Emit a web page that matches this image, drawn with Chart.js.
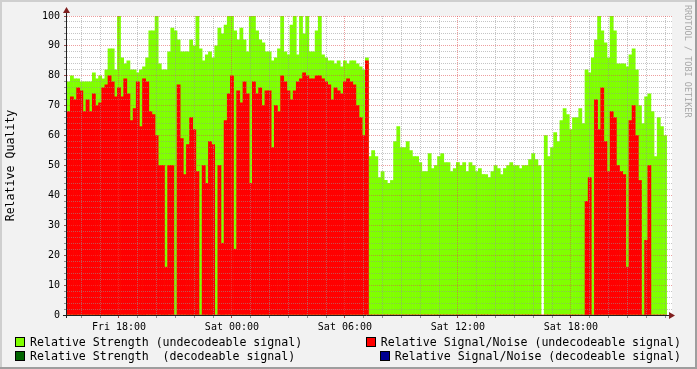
<!DOCTYPE html>
<html>
<head>
<meta charset="utf-8">
<script src="https://cdn.jsdelivr.net/npm/chart.js@4/dist/chart.umd.min.js"></script>
<style>
html,body{margin:0;padding:0;background:#f2f2f2;}
#wrap{position:relative;width:697px;height:369px;overflow:hidden;}
canvas{position:absolute;left:0;top:0;}
.leg{position:absolute;font-family:"DejaVu Sans Mono",monospace;font-size:11.6px;line-height:14px;color:#000;white-space:pre;display:flex;align-items:center;}
.sw{width:10px;height:10px;box-sizing:border-box;border:1px solid #000;margin-right:5px;flex:none;}
#wm{position:absolute;left:692px;top:5px;transform-origin:0 0;transform:rotate(90deg);font-family:"DejaVu Sans Mono",monospace;font-size:8.5px;line-height:9px;color:#a8a8a8;white-space:pre;}
</style>
</head>
<body>
<div id="wrap">
<canvas id="c" width="697" height="369"></canvas>
<div class="leg" style="left:15px;top:335px"><span class="sw" style="background:#80ff00"></span>Relative Strength (undecodeable signal)</div>
<div class="leg" style="left:15px;top:349px"><span class="sw" style="background:#006400"></span>Relative Strength  (decodeable signal)</div>
<div class="leg" style="right:16px;top:335px"><span class="sw" style="background:#ff0000"></span>Relative Signal/Noise (undecodeable signal)</div>
<div class="leg" style="right:16px;top:349px"><span class="sw" style="background:#000090"></span>Relative Signal/Noise (decodeable signal)</div>
<div id="wm">RRDTOOL / TOBI OETIKER</div>
</div>
<script>
// time axis: hours counted from Fri 00:00, one sample every 10 minutes
const startHour = 15 + 20 / 60;
const stepHours = 10 / 60;

// Relative Strength (undecodeable signal)
const strength = [
  78,80,79,79,78,78,78,78,81,79,
  80,79,82,89,89,82,100,86,84,85,
  82,82,81,82,83,86,95,95,100,84,
  82,82,88,96,95,92,88,88,88,92,
  90,100,89,85,87,88,86,90,96,94,
  97,100,100,95,92,96,92,88,100,100,
  95,92,91,88,88,85,86,89,100,88,
  87,97,100,87,100,94,100,88,88,95,
  100,87,86,85,85,84,85,83,85,84,
  85,85,84,83,82,86,53,55,53,46,
  48,45,44,45,58,63,56,56,58,55,
  53,53,51,48,48,54,49,50,53,54,
  51,51,48,49,51,50,51,48,51,50,
  48,49,47,47,46,48,50,49,47,49,
  50,51,50,50,49,50,50,52,54,52,
  50,null,60,53,56,61,58,65,69,67,
  62,66,66,69,64,82,81,86,92,100,
  95,91,86,100,95,84,84,84,83,87,
  89,82,70,64,73,74,68,53,66,63,
  60
];

// Relative Signal/Noise (undecodeable signal)
const signalNoise = [
  68,73,72,76,75,68,72,68,74,70,
  71,76,77,80,78,73,76,73,79,74,
  65,69,78,63,79,78,68,67,60,50,
  50,16,50,50,0,77,59,47,57,66,
  62,48,0,50,44,58,57,0,50,24,
  65,74,80,22,75,71,78,74,44,78,
  74,76,70,75,75,56,70,68,80,78,
  75,72,75,78,79,81,80,79,79,80,
  80,79,78,77,72,76,75,74,78,79,
  78,77,70,66,60,85,0,0,0,0,
  0,0,0,0,0,0,0,0,0,0,
  0,0,0,0,0,0,0,0,0,0,
  0,0,0,0,0,0,0,0,0,0,
  0,0,0,0,0,0,0,0,0,0,
  0,0,0,0,0,0,0,0,0,0,
  0,0,0,0,0,0,0,0,0,0,
  0,0,0,0,0,38,46,0,72,62,
  76,58,48,68,66,50,48,47,16,65,
  70,60,45,0,25,50,0,0,0,0,
  0
];

const times = strength.map((_, i) => startHour + i * stepHours);

const tickHours = [18, 24, 30, 36, 42];
const tickLabels = ['Fri 18:00', 'Sat 00:00', 'Sat 06:00', 'Sat 12:00', 'Sat 18:00'];

const MINOR = 'rgba(150,150,150,0.55)';
const MAJOR = 'rgba(222,79,79,0.55)';

const frame = {
  id: 'frame',
  beforeDraw(chart) {
    const {ctx, chartArea: a} = chart;
    ctx.save();
    ctx.fillStyle = '#f2f2f2'; ctx.fillRect(0, 0, 697, 369);
    ctx.fillStyle = '#ffffff'; ctx.fillRect(a.left, a.top, a.right - a.left, a.bottom - a.top);
    ctx.fillStyle = '#cfcfcf'; ctx.fillRect(0, 0, 697, 2); ctx.fillRect(0, 0, 2, 369);
    ctx.fillStyle = '#9e9e9e'; ctx.fillRect(0, 367, 697, 2); ctx.fillRect(695, 0, 2, 369);
    ctx.restore();
  },
  afterDraw(chart) {
    const {ctx, chartArea: a} = chart;
    const y0 = Math.round(chart.scales.y.getPixelForValue(0)) + 0.5;
    const x0 = Math.round(a.left) - 0.5;
    ctx.save();
    ctx.strokeStyle = '#1f1f1f';
    ctx.lineWidth = 1;
    ctx.beginPath();
    ctx.moveTo(a.left - 4, y0); ctx.lineTo(a.right - 2, y0);
    ctx.moveTo(x0, a.bottom + 3); ctx.lineTo(x0, a.top - 3);
    ctx.stroke();
    ctx.fillStyle = '#801f1f';
    ctx.beginPath();
    ctx.moveTo(a.right - 3, y0 - 3.5); ctx.lineTo(a.right - 3, y0 + 3.5); ctx.lineTo(a.right + 3, y0); ctx.closePath();
    ctx.fill();
    ctx.beginPath();
    ctx.moveTo(x0 - 3.5, a.top - 3); ctx.lineTo(x0 + 3.5, a.top - 3); ctx.lineTo(x0, a.top - 9); ctx.closePath();
    ctx.fill();
    ctx.restore();
  }
};

new Chart(document.getElementById('c'), {
  type: 'bar',
  data: {
    labels: times,
    datasets: [
      {
        label: 'Relative Signal/Noise (undecodeable signal)',
        data: signalNoise,
        backgroundColor: '#ff0000',
        order: 1
      },
      {
        label: 'Relative Strength (undecodeable signal)',
        data: strength,
        backgroundColor: '#80ff00',
        order: 2
      }
    ]
  },
  options: {
    responsive: false,
    devicePixelRatio: 1,
    animation: false,
    events: [],
    datasets: {
      bar: { grouped: false, barPercentage: 1, categoryPercentage: 1, borderWidth: 0 }
    },
    layout: { padding: { left: 0, top: 16, right: 25, bottom: 0 } },
    plugins: { legend: { display: false }, tooltip: { enabled: false } },
    scales: {
      x: {
        type: 'linear',
        min: 15.24,
        max: 47.37,
        offset: false,
        afterFit(s) { s.height = 54; },
        afterBuildTicks(s) { s.ticks = s.ticks.filter(t => Number.isInteger(t.value)); },
        grid: {
          offset: false,
          z: 1,
          drawTicks: true,
          tickLength: 3,
          lineWidth: 1,
          color: (c) => (c.tick && c.tick.value % 6 === 0) ? MAJOR : MINOR,
          tickColor: (c) => (c.tick && c.tick.value % 6 === 0) ? 'rgba(128,31,31,0.8)' : 'rgba(80,80,80,0.6)'
        },
        border: { display: false, dash: [1, 1] },
        ticks: {
          stepSize: 1,
          includeBounds: false,
          autoSkip: false,
          maxRotation: 0,
          minRotation: 0,
          padding: 3,
          color: '#000',
          font: { family: 'DejaVu Sans Mono', size: 10 },
          callback: (v) => { const k = tickHours.indexOf(v); return k >= 0 ? tickLabels[k] : ''; }
        }
      },
      y: {
        type: 'linear',
        min: 0,
        max: 100,
        afterFit(s) { s.width = 67; },
        grid: {
          z: 1,
          drawTicks: true,
          tickLength: 3,
          lineWidth: 1,
          color: (c) => !c.tick || c.tick.value === 0 ? 'rgba(0,0,0,0)' : (c.tick.value % 10 === 0 ? MAJOR : MINOR),
          tickColor: (c) => (c.tick && c.tick.value % 10 === 0) ? 'rgba(128,31,31,0.8)' : 'rgba(80,80,80,0.6)'
        },
        border: { display: false, dash: [1, 1] },
        title: {
          display: true,
          text: 'Relative Quality',
          color: '#000',
          font: { family: 'DejaVu Sans Mono', size: 11.6 },
          padding: { top: 4.5, bottom: 0 }
        },
        ticks: {
          stepSize: 2,
          autoSkip: false,
          padding: 4,
          color: '#000',
          font: { family: 'DejaVu Sans Mono', size: 10 },
          callback: (v) => v % 10 === 0 ? String(v) : ''
        }
      }
    }
  },
  plugins: [frame]
});
</script>
</body>
</html>
